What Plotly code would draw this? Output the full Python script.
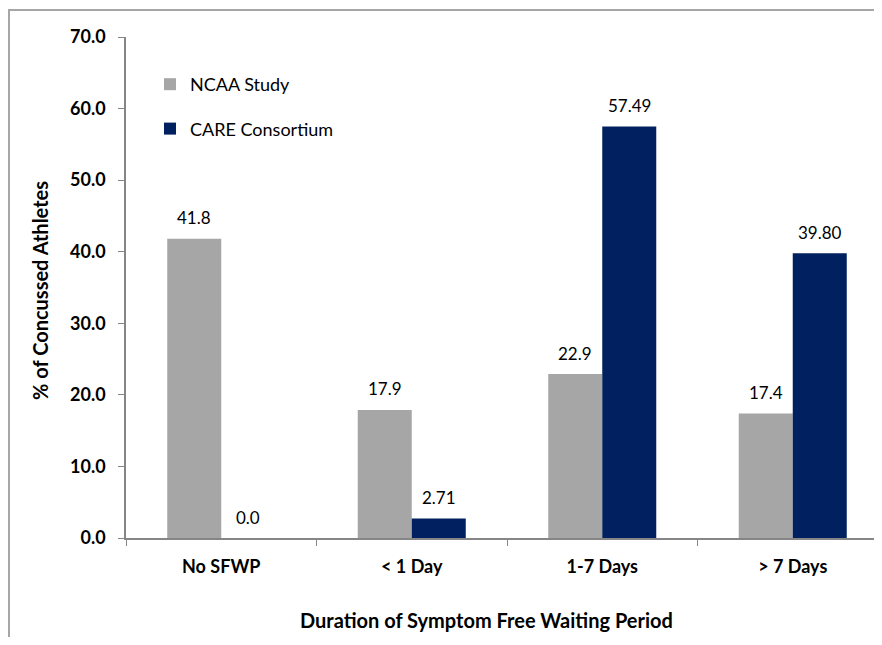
import plotly.graph_objects as go

categories = ["No SFWP", "< 1 Day", "1-7 Days", "> 7 Days"]
ncaa_values = [41.8, 17.9, 22.9, 17.4]
ncaa_labels = ["41.8", "17.9", "22.9", "17.4"]
care_values = [0.0, 2.71, 57.49, 39.80]
care_labels = ["0.0", "2.71", "57.49", "39.80"]
y_ticks = [0, 10, 20, 30, 40, 50, 60, 70]
y_tick_labels = ["0.0", "10.0", "20.0", "30.0", "40.0", "50.0", "60.0", "70.0"]

FONT = "Lato, Open Sans, sans-serif"
GRAY = "#a6a6a6"
NAVY = "#002060"

W, H = 874, 629
PL, PR, PT, PB = 118, 874, 29, 530   # plot area in figure pixels
cat_px = 190.5

fig = go.Figure()
fig.add_trace(go.Bar(
    x=categories, y=ncaa_values, name="NCAA Study",
    marker=dict(color=GRAY, line=dict(width=0)),
    legendgroup="a",
))
fig.add_trace(go.Bar(
    x=categories, y=care_values, name="CARE Consortium",
    marker=dict(color=NAVY, line=dict(width=0)),
    legendgroup="b",
))
# empty helper trace so the frame axes (x2/y2) are drawn
fig.add_trace(go.Scatter(x=[], y=[], xaxis="x2", yaxis="y2", showlegend=False, hoverinfo="skip"))

annotations = []
for cat, v, t in zip(categories, ncaa_values, ncaa_labels):
    annotations.append(dict(x=cat, y=v, xref="x", yref="y", text=t, showarrow=False,
                            xshift=-27, yshift=21, yanchor="middle",
                            font=dict(size=17, family=FONT, color="black")))
for cat, v, t in zip(categories, care_values, care_labels):
    annotations.append(dict(x=cat, y=v, xref="x", yref="y", text=t, showarrow=False,
                            xshift=27, yshift=21, yanchor="middle",
                            font=dict(size=17, family=FONT, color="black")))
annotations.append(dict(
    xref="paper", yref="paper", x=478 / W, y=1 - 612 / H,
    xanchor="center", yanchor="middle", showarrow=False,
    text="<b>Duration of Symptom Free Waiting Period</b>",
    font=dict(size=20, family=FONT, color="black"),
))
annotations.append(dict(
    xref="paper", yref="paper", x=32 / W, y=1 - 283 / H,
    xanchor="center", yanchor="middle", showarrow=False, textangle=-90,
    text="<b>% of Concussed Athletes</b>",
    font=dict(size=20, family=FONT, color="black"),
))

fig.update_layout(
    width=W, height=H,
    margin=dict(l=0, r=0, t=0, b=0, autoexpand=False),
    paper_bgcolor="white", plot_bgcolor="rgba(0,0,0,0)",
    font=dict(family=FONT, color="black"),
    barmode="group", bargap=0.433, bargroupgap=0,
    showlegend=True,
    legend=dict(
        x=142 / W, y=1 - 58 / H, xanchor="left", yanchor="top",
        font=dict(size=18, family=FONT, color="black"),
        tracegroupgap=18, bgcolor="rgba(0,0,0,0)",
    ),
    xaxis=dict(
        domain=[PL / W, PR / W], anchor="y",
        type="category", range=[-0.5, -0.5 + (PR - PL) / cat_px],
        showline=True, linecolor="#868686", linewidth=1.5,
        ticks="outside", tickson="boundaries", ticklen=6, tickcolor="#868686",
        tickfont=dict(size=18, family=FONT, color="black", weight="bold"),
        ticklabelstandoff=12,
        showgrid=False, zeroline=False,
    ),
    yaxis=dict(
        domain=[1 - PB / H, 1 - PT / H], anchor="x",
        range=[0, 70], tickvals=y_ticks, ticktext=y_tick_labels,
        showline=True, linecolor="#868686", linewidth=1.5,
        ticks="outside", ticklen=6, tickcolor="#868686",
        tickfont=dict(size=18, family=FONT, color="black", weight="bold"),
        ticklabelstandoff=9,
        showgrid=False, zeroline=False,
    ),
    xaxis2=dict(
        domain=[2 / W, 1], anchor="y2", side="top", range=[0, 1],
        showline=True, linecolor=GRAY, linewidth=2,
        showticklabels=False, ticks="", showgrid=False, zeroline=False, fixedrange=True,
    ),
    yaxis2=dict(
        domain=[0, 1 - 3 / H], anchor="x2", side="left", range=[0, 1],
        showline=True, linecolor=GRAY, linewidth=2,
        showticklabels=False, ticks="", showgrid=False, zeroline=False, fixedrange=True,
    ),
    annotations=annotations,
)

fig.write_html("out.html")
